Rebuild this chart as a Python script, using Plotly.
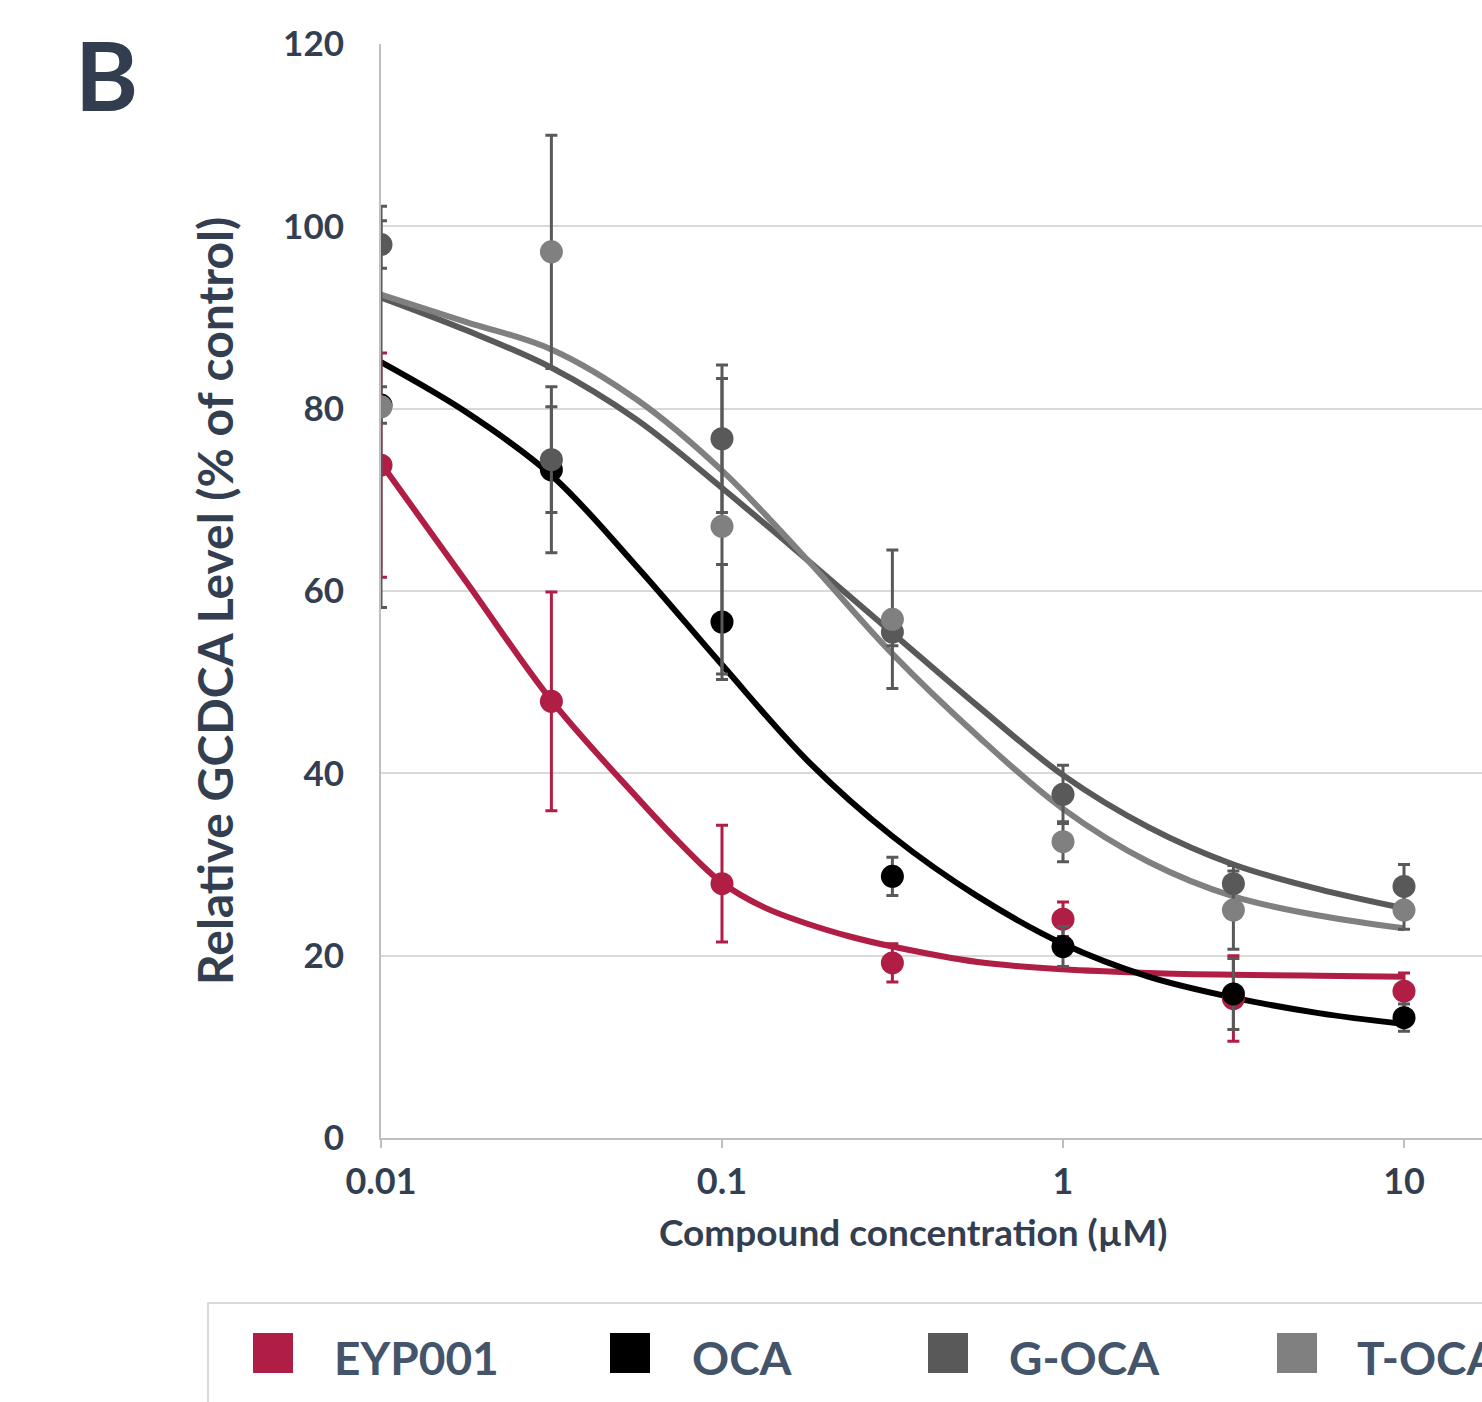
import plotly.graph_objects as go

# ---- data ----
conc = [0.01, 0.0316, 0.1, 0.316, 1, 3.16, 10]
series_names = ["EYP001", "OCA", "G-OCA", "T-OCA"]
series_colors = ["#B01E46", "#000000", "#595959", "#808080"]
errbar_colors = ["#B01E46", "#595959", "#595959", "#595959"]

eyp001 = [73.8, 47.9, 27.9, 19.2, 24.0, 15.3, 16.1]
eyp001_err = [12.3, 12.0, 6.4, 2.1, 1.9, 4.7, 2.0]
oca = [80.4, 73.3, 56.6, 28.7, 21.0, 15.8, 13.2]
oca_err = [2.0, 9.1, 6.3, 2.1, 2.2, 3.9, 1.5]
g_oca = [98.0, 74.4, 76.7, 55.5, 37.7, 27.9, 27.6]
g_oca_err = [2.6, 5.8, 8.1, 1.5, 3.2, 2.0, 2.4]
t_oca = [80.2, 97.2, 67.1, 56.9, 32.5, 25.0, 25.0]
t_oca_err = [22.0, 12.8, 16.2, 7.6, 2.2, 4.3, 2.1]

# fitted curves
eyp001_fit_conc = [0.01, 0.0178, 0.0316, 0.0562, 0.075, 0.1, 0.133, 0.178, 0.237, 0.316,
                   0.562, 1, 1.78, 3.16, 5.62, 10]
eyp001_fit = [74.0, 61.0, 48.0, 37.4, 32.4, 28.0, 25.3, 23.5, 22.1, 21.0,
              19.3, 18.5, 18.1, 17.9, 17.8, 17.7]
curve_conc = [0.01, 0.0178, 0.0316, 0.0562, 0.1, 0.178, 0.316, 0.562, 1, 1.78, 3.16, 5.62, 10]
oca_fit = [85.1, 79.6, 72.7, 62.7, 51.9, 41.4, 33.1, 26.5, 21.3, 17.7, 15.4, 13.7, 12.5]
g_oca_fit = [92.2, 88.6, 84.5, 78.8, 71.3, 63.4, 55.4, 47.4, 39.8, 34.1, 30.0, 27.3, 25.2]
t_oca_fit = [92.5, 89.5, 86.5, 81.0, 73.2, 63.4, 53.1, 44.1, 36.1, 30.3, 26.5, 24.4, 23.0]

y_ticks = [0, 20, 40, 60, 80, 100, 120]
x_ticks = [0.01, 0.1, 1, 10]
x_ticklabels = ["0.01", "0.1", "1", "10"]

points = [eyp001, oca, g_oca, t_oca]
errs = [eyp001_err, oca_err, g_oca_err, t_oca_err]
fits = [(eyp001_fit_conc, eyp001_fit), (curve_conc, oca_fit), (curve_conc, g_oca_fit), (curve_conc, t_oca_fit)]

TEXT = "#333F50"
LEG_TEXT = "#44546A"
FONT = "Lato"

fig = go.Figure()

for name, col, (fx, fy) in zip(series_names, series_colors, fits):
    fig.add_trace(go.Scatter(x=fx, y=fy, mode="lines", name=name + " fit",
                             line=dict(color=col, width=6, shape="spline", smoothing=1.0),
                             showlegend=False, hoverinfo="skip"))

for name, col, ecol, vals, err in zip(series_names, series_colors, errbar_colors, points, errs):
    fig.add_trace(go.Scatter(x=conc, y=vals, mode="markers", name=name,
                             marker=dict(color=col, size=23, line=dict(width=0)),
                             error_y=dict(type="data", array=err, visible=True,
                                          color=ecol, thickness=3, width=6),
                             showlegend=False))

W, H = 1482, 1402
L, R, T, B = 381, 1482, 44, 1138


def px(p):
    return (p - L) / (R - L)


def py(p):
    return (B - p) / (B - T)


shapes = [
    dict(type="rect", xref="paper", yref="paper", x0=px(208), x1=px(1500), y0=py(1303), y1=py(1420),
         line=dict(color="#D9D9D9", width=2), fillcolor="rgba(0,0,0,0)", layer="below"),
]
annotations = [
    dict(text="<b>B</b>", xref="paper", yref="paper", x=px(106), y=py(74), xanchor="center", yanchor="middle",
         showarrow=False, font=dict(family=FONT, size=96, color="#323E4F")),
    dict(text="<b>Relative GCDCA Level (% of control)</b>", xref="paper", yref="paper", x=px(214), y=py(601),
         xanchor="center", yanchor="middle", textangle=-90, showarrow=False,
         font=dict(family=FONT, size=48, color=TEXT)),
    dict(text="<b>Compound concentration (µM)</b>", xref="paper", yref="paper", x=px(913), y=py(1231),
         xanchor="center", yanchor="middle", showarrow=False,
         font=dict(family=FONT, size=37, color=TEXT)),
]
legend_sw = [253, 610, 928, 1277]
legend_tx = [332, 690, 1007, 1355]
for name, col, sx, tx in zip(series_names, series_colors, legend_sw, legend_tx):
    shapes.append(dict(type="rect", xref="paper", yref="paper", x0=px(sx), x1=px(sx + 40),
                       y0=py(1373), y1=py(1333), fillcolor=col, line=dict(width=0)))
    annotations.append(dict(text="<b>" + name + "</b>", xref="paper", yref="paper", x=px(tx), y=py(1357),
                            xanchor="left", yanchor="middle", showarrow=False,
                            font=dict(family=FONT, size=46, color=LEG_TEXT)))

fig.update_layout(
    width=W, height=H,
    margin=dict(l=L, r=W - R, t=T, b=H - B, pad=0),
    paper_bgcolor="white", plot_bgcolor="white",
    showlegend=False,
    shapes=shapes, annotations=annotations,
    font=dict(family=FONT, color=TEXT),
)
fig.update_xaxes(type="log", range=[-2, -2 + (R - L) / 341.0],
                 tickvals=x_ticks, ticktext=["<b>%s</b>" % t for t in x_ticklabels],
                 tickfont=dict(family=FONT, size=36, color=TEXT),
                 showgrid=False, zeroline=False,
                 showline=True, linecolor="#BFBFBF", linewidth=2,
                 ticks="outside", ticklen=8, tickwidth=2, tickcolor="#BFBFBF",
                 ticklabelstandoff=3)
fig.update_yaxes(range=[0, 120], tickvals=y_ticks, ticktext=["<b>%d</b>" % v for v in y_ticks],
                 tickfont=dict(family=FONT, size=35, color=TEXT),
                 showgrid=True, gridcolor="#D9D9D9", gridwidth=2, zeroline=False,
                 showline=True, linecolor="#BFBFBF", linewidth=2,
                 ticks="", ticklabelstandoff=28)

fig.write_html("out.html")
